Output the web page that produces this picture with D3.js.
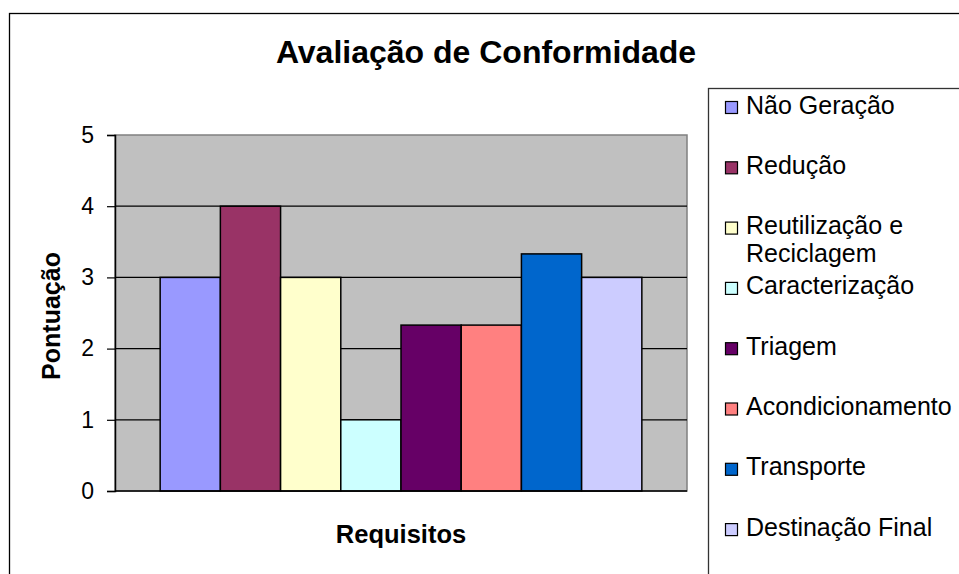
<!DOCTYPE html>
<html>
<head>
<meta charset="utf-8">
<script src="https://cdn.jsdelivr.net/npm/d3@7"></script>
<style>
  body { margin: 0; background: #fff; }
  text { font-family: "Liberation Sans", Arial, sans-serif; fill: #000; }
</style>
</head>
<body>
<div id="chart"></div>
<script>
const category = 'Requisitos';
const seriesNames = ['Não Geração', 'Redução', 'Reutilização e Reciclagem', 'Caracterização',
  'Triagem', 'Acondicionamento', 'Transporte', 'Destinação Final'];
const seriesValues = [3, 4, 3, 1, 2.33, 2.33, 3.33, 3];
const seriesColors = ['#9999FF', '#993366', '#FFFFCC', '#CCFFFF', '#660066', '#FF8080', '#0066CC', '#CCCCFF'];
const yTicks = [0, 1, 2, 3, 4, 5];

const W = 959, H = 574;
const plot = { left: 115, top: 135, right: 687, bottom: 491 };
const width = plot.right - plot.left;
const height = plot.bottom - plot.top;

const svg = d3.select('#chart')
  .append('svg')
  .attr('width', W)
  .attr('height', H);

// outer chart border (runs off the right / bottom edge)
svg.append('rect')
  .attr('x', 9.5).attr('y', 13.5)
  .attr('width', 1000).attr('height', 700)
  .attr('fill', '#fff')
  .attr('stroke', '#000')
  .attr('stroke-width', 1.3);

svg.append('text')
  .attr('x', 486).attr('y', 63)
  .attr('text-anchor', 'middle')
  .attr('font-size', '32px')
  .attr('font-weight', 'bold')
  .text('Avaliação de Conformidade');

const g = svg.append('g')
  .attr('transform', `translate(${plot.left},${plot.top})`);

const y = d3.scaleLinear().domain([0, 5]).range([height, 0]);

// one category, 8 series, gap width 150%
const x0 = d3.scaleBand()
  .domain([category])
  .range([0, width])
  .paddingOuter(0.09375);
const x1 = d3.scaleBand()
  .domain(seriesNames)
  .range([0, x0.bandwidth()]);

g.append('rect')
  .attr('width', width).attr('height', height)
  .attr('fill', '#C0C0C0')
  .attr('stroke', '#808080')
  .attr('stroke-width', 1.5);

// gridlines
g.selectAll('.grid')
  .data(yTicks.filter(d => d > 0 && d < 5))
  .enter()
  .append('line')
  .attr('x1', 0).attr('x2', width)
  .attr('y1', d => y(d)).attr('y2', d => y(d))
  .attr('stroke', '#000')
  .attr('stroke-width', 1.2);

const data = seriesNames.map((name, i) => ({ name, value: seriesValues[i], color: seriesColors[i] }));

g.selectAll('.bar')
  .data(data)
  .enter()
  .append('rect')
  .attr('class', 'bar')
  .attr('x', d => x0(category) + x1(d.name))
  .attr('y', d => y(d.value))
  .attr('width', x1.bandwidth())
  .attr('height', d => height - y(d.value))
  .attr('fill', d => d.color)
  .attr('stroke', '#000')
  .attr('stroke-width', 1.5);

// y axis
const yAxis = g.append('g')
  .call(d3.axisLeft(y).tickValues(yTicks).tickSize(8).tickPadding(13).tickFormat(d3.format('d')));
yAxis.select('.domain').attr('stroke', '#000').attr('stroke-width', 1.5);
yAxis.selectAll('.tick line').attr('stroke', '#000').attr('stroke-width', 1.2);
yAxis.selectAll('.tick text')
  .attr('font-size', '23px')
  .attr('font-family', '"Liberation Sans", Arial, sans-serif')
  .attr('fill', '#000');

// x axis line
g.append('line')
  .attr('x1', 0).attr('x2', width)
  .attr('y1', height).attr('y2', height)
  .attr('stroke', '#000')
  .attr('stroke-width', 1.5);

// axis titles
svg.append('text')
  .attr('x', (plot.left + plot.right) / 2).attr('y', 543)
  .attr('text-anchor', 'middle')
  .attr('font-size', '25.5px')
  .attr('font-weight', 'bold')
  .text('Requisitos');

svg.append('text')
  .attr('transform', `translate(60,${(plot.top + plot.bottom) / 2 + 3}) rotate(-90)`)
  .attr('text-anchor', 'middle')
  .attr('font-size', '25px')
  .attr('font-weight', 'bold')
  .text('Pontuação');

// legend (also runs off the edge)
const legend = svg.append('g');
legend.append('rect')
  .attr('x', 708.5).attr('y', 88.5)
  .attr('width', 400).attr('height', 600)
  .attr('fill', '#fff')
  .attr('stroke', '#333')
  .attr('stroke-width', 1.3);

const rowStep = 60.3;
const items = legend.selectAll('.item')
  .data(data)
  .enter()
  .append('g')
  .attr('transform', (d, i) => `translate(725,${113.5 + i * rowStep})`);

items.append('rect')
  .attr('x', 0.5).attr('y', -12)
  .attr('width', 12).attr('height', 12)
  .attr('fill', d => d.color)
  .attr('stroke', '#000')
  .attr('stroke-width', 1.2);

items.append('text')
  .attr('x', 21)
  .attr('font-size', '25px')
  .each(function (d) {
    const t = d3.select(this);
    const lines = d.name === 'Reutilização e Reciclagem' ? ['Reutilização e', 'Reciclagem'] : [d.name];
    lines.forEach((l, j) => {
      t.append('tspan').attr('x', 21).attr('dy', j === 0 ? 0 : 28).text(l);
    });
  });
</script>
</body>
</html>
